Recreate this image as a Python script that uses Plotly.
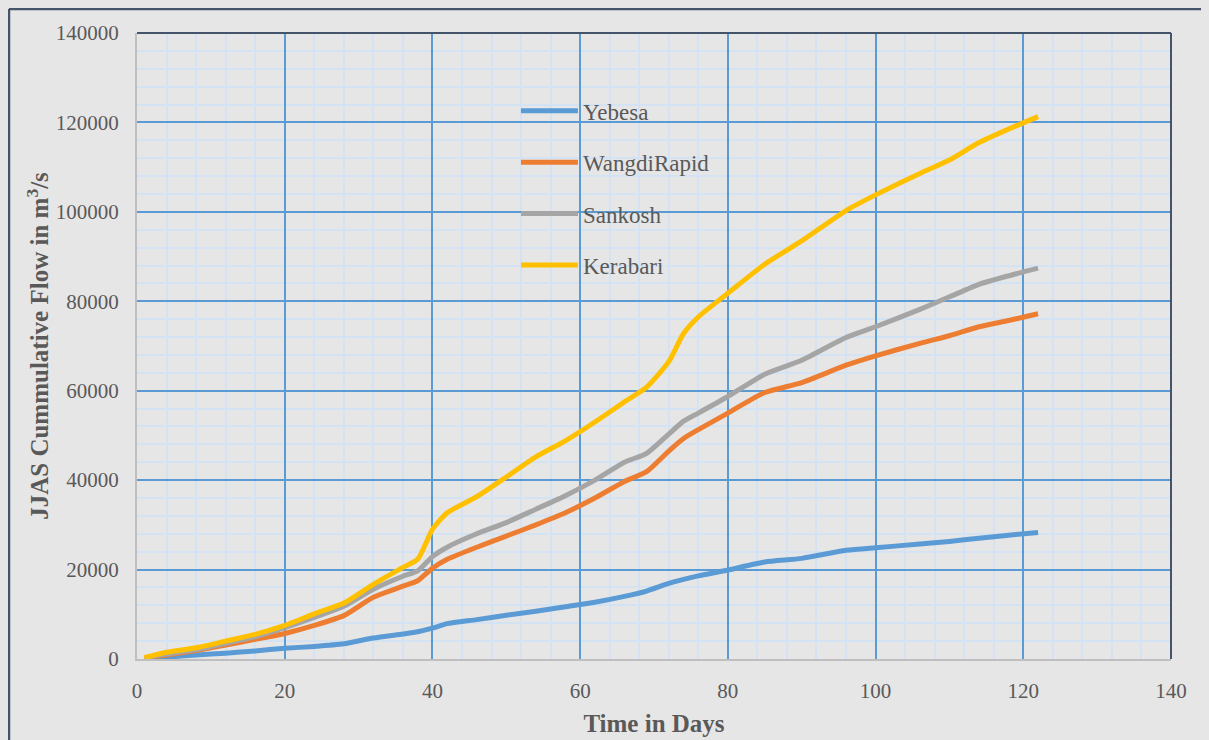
import plotly.graph_objects as go

days = [1, 4, 8, 12, 16, 20, 24, 28, 32, 36, 38, 40, 42, 46, 50, 54, 58, 62, 66, 69,
        72, 74, 76, 80, 85, 90, 96, 100, 106, 110, 114, 118, 122]

yebesa = [100, 400, 900, 1300, 1800, 2400, 2800, 3400, 4700, 5600, 6100, 6900, 7900, 8800,
          9800, 10700, 11700, 12700, 14000, 15200, 16900, 17800, 18600, 19900, 21700, 22500,
          24300, 24900, 25700, 26300, 27000, 27700, 28300]

wangdi = [250, 900, 1900, 3100, 4400, 5700, 7500, 9700, 13800, 16300, 17500, 20300, 22300,
          25000, 27500, 30000, 32700, 36000, 39700, 41900, 46500, 49300, 51300, 55000, 59600,
          61800, 65700, 67800, 70600, 72300, 74300, 75700, 77200]

sankosh = [300, 1100, 2100, 3500, 5000, 7000, 9300, 11800, 15600, 18500, 19700, 22900, 25000,
           28000, 30500, 33500, 36500, 40000, 44000, 46000, 50300, 53200, 55000, 58700, 63700,
           66800, 71900, 74300, 78200, 81000, 83800, 85700, 87400]

kerabari = [300, 1500, 2500, 4000, 5500, 7500, 10100, 12500, 16700, 20500, 22300, 29000, 32700,
            36300, 40700, 45200, 48800, 53000, 57500, 60800, 66500, 72800, 76500, 81800, 88300,
            93500, 100300, 103800, 108600, 111600, 115500, 118500, 121300]

series = [
    ("Yebesa", yebesa, "#5b9bd5"),
    ("WangdiRapid", wangdi, "#ed7d31"),
    ("Sankosh", sankosh, "#a5a5a5"),
    ("Kerabari", kerabari, "#ffc000"),
]

fig = go.Figure()
for i, (name, vals, col) in enumerate(series):
    fig.add_trace(go.Scatter(
        x=days, y=vals, name=name, mode="lines", legendgroup=f"g{i}",
        line=dict(color=col, width=5, shape="spline", smoothing=0.6),
    ))

bg = "#e7e6e6"
txt = "#595959"
major = "#5b9bd5"
minor = "#d3e3f3"
serif = "Times New Roman, Liberation Serif, DejaVu Serif, serif"

fig.update_layout(
    width=1209, height=740,
    paper_bgcolor=bg, plot_bgcolor=bg,
    margin=dict(l=129, r=46, t=25, b=89),
    font=dict(family=serif, color=txt, size=21),
    showlegend=True,
    legend=dict(
        x=0.3665, y=0.910, xanchor="left", yanchor="top",
        bgcolor="rgba(0,0,0,0)", font=dict(family=serif, size=23, color=txt),
        traceorder="grouped", tracegroupgap=18.5, itemwidth=57,
    ),
    xaxis=dict(
        range=[0, 140], dtick=20, tick0=0,
        showgrid=True, gridcolor=major, gridwidth=1.5,
        minor=dict(dtick=4, tick0=0, showgrid=True, gridcolor=minor, gridwidth=1.5),
        showline=True, linecolor="#bfbfbf", linewidth=2,
        zeroline=False, ticks="", ticklabelstandoff=12,
        tickfont=dict(family=serif, size=21, color=txt),
        title=dict(text="<b>Time in Days</b>", font=dict(family=serif, size=25, color=txt),
                   standoff=12),
    ),
    yaxis=dict(
        range=[0, 140000], dtick=20000, tick0=0, tickformat="d",
        showgrid=True, gridcolor=major, gridwidth=1.5,
        minor=dict(dtick=4000, tick0=0, showgrid=True, gridcolor=minor, gridwidth=1.5),
        showline=True, linecolor="#bfbfbf", linewidth=2,
        zeroline=False, ticks="", ticklabelstandoff=12,
        tickfont=dict(family=serif, size=21, color=txt),
        title=dict(text="<b>JJAS Cummulative Flow in m<sup>3</sup>/s</b>",
                   font=dict(family=serif, size=25, color=txt), standoff=0),
    ),
)

# plot-area top and right edges (dark)
fig.add_shape(type="line", xref="paper", yref="paper", x0=0, x1=1, y0=1, y1=1,
              line=dict(color="#44546a", width=2))
fig.add_shape(type="line", xref="paper", yref="paper", x0=1, x1=1, y0=0, y1=1,
              line=dict(color="#44546a", width=2))
# outer chart frame (left and top edges; the others fall outside the picture)
fig.add_shape(type="line", xref="paper", yref="paper", x0=-0.1238, x1=-0.1238, y0=-0.3, y1=1.0383,
              line=dict(color="#44546a", width=2.5), layer="above")
fig.add_shape(type="line", xref="paper", yref="paper", x0=-0.1238, x1=1.3, y0=1.0383, y1=1.0383,
              line=dict(color="#44546a", width=2.5), layer="above")

fig.write_html(
    "out.html",
    config={"displayModeBar": False},
    post_script="document.body.style.background='#e7e6e6';"
                "document.documentElement.style.overflow='hidden';",
)
